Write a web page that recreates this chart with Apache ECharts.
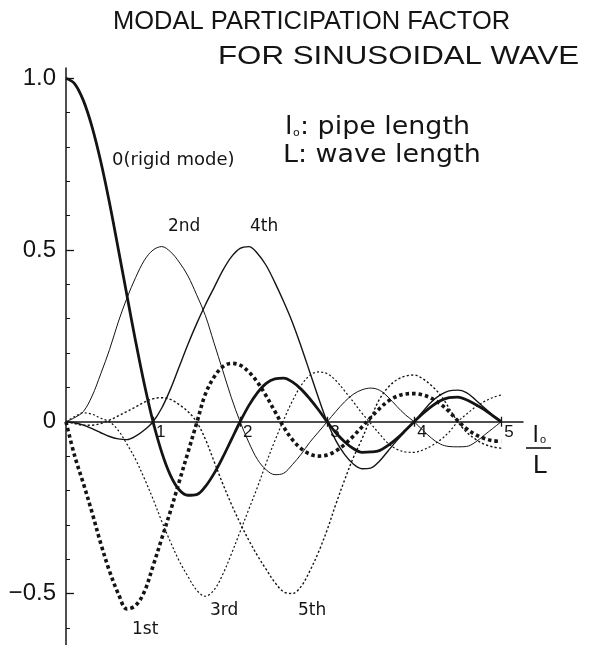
<!DOCTYPE html>
<html>
<head>
<meta charset="utf-8">
<script src="https://cdn.jsdelivr.net/npm/echarts@6/dist/echarts.min.js"></script>
<style>
  html, body { margin: 0; padding: 0; background: #fff; }
  #chart { width: 593px; height: 645px; }
</style>
</head>
<body>
<div id="chart"></div>
<script>
// Ratio of pipe length to wave length (l0 / L)
const ratio = [0, 0.1, 0.2, 0.3, 0.4, 0.5, 0.6, 0.7, 0.8, 0.9,
  1, 1.1, 1.2, 1.3, 1.4, 1.5, 1.6, 1.7, 1.8, 1.9,
  2, 2.1, 2.2, 2.3, 2.4, 2.5, 2.6, 2.7, 2.8, 2.9,
  3, 3.1, 3.2, 3.3, 3.4, 3.5, 3.6, 3.7, 3.8, 3.9,
  4, 4.1, 4.2, 4.3, 4.4, 4.5, 4.6, 4.7, 4.8, 4.9, 5];

// Modal participation factors
const rigidMode = [1.000, 0.984, 0.935, 0.858, 0.757, 0.637, 0.504, 0.368, 0.234, 0.109,
  0.000, -0.089, -0.156, -0.198, -0.214, -0.212, -0.189, -0.151, -0.104, -0.052,
  0.000, 0.047, 0.085, 0.112, 0.125, 0.127, 0.116, 0.095, 0.067, 0.035,
  0.000, -0.032, -0.058, -0.078, -0.089, -0.088, -0.084, -0.069, -0.049, -0.025,
  0.000, 0.024, 0.045, 0.061, 0.070, 0.072, 0.064, 0.051, 0.036, 0.018, 0.000];

const mode1 = [0, -0.10, -0.18, -0.265, -0.355, -0.435, -0.50, -0.545, -0.535, -0.495,
  -0.42, -0.34, -0.26, -0.175, -0.09, -0.005, 0.08, 0.13, 0.16, 0.17,
  0.165, 0.145, 0.115, 0.075, 0.03, -0.015, -0.052, -0.078, -0.094, -0.100,
  -0.097, -0.085, -0.066, -0.042, -0.015, 0.012, 0.038, 0.060, 0.074, 0.081,
  0.082, 0.078, 0.068, 0.052, 0.030, 0.003, -0.020, -0.037, -0.048, -0.055, -0.057];

const mode2 = [0, 0.012, 0.03, 0.075, 0.14, 0.21, 0.29, 0.36, 0.42, 0.47,
  0.50, 0.51, 0.495, 0.465, 0.425, 0.37, 0.31, 0.23, 0.15, 0.07,
  0.0, -0.06, -0.11, -0.14, -0.154, -0.15, -0.125, -0.095, -0.06, -0.03,
  0.0, 0.03, 0.058, 0.08, 0.093, 0.098, 0.092, 0.072, 0.045, 0.02,
  0.0, -0.025, -0.048, -0.065, -0.072, -0.073, -0.072, -0.06, -0.04, -0.02, 0.0];

const mode3 = [0, 0.015, 0.026, 0.022, 0.01, 0.0, -0.025, -0.065, -0.11, -0.165,
  -0.225, -0.29, -0.35, -0.405, -0.45, -0.49, -0.508, -0.49, -0.445, -0.385,
  -0.32, -0.255, -0.19, -0.12, -0.055, 0.005, 0.06, 0.105, 0.135, 0.145,
  0.14, 0.12, 0.09, 0.058, 0.025, -0.005, -0.035, -0.063, -0.08, -0.088,
  -0.089, -0.082, -0.07, -0.053, -0.03, 0.0, 0.022, 0.042, 0.058, 0.07, 0.078];

const mode4 = [0, -0.003, -0.01, -0.02, -0.032, -0.043, -0.05, -0.052, -0.042, -0.024,
  0.0, 0.04, 0.095, 0.16, 0.225, 0.285, 0.34, 0.39, 0.44, 0.48,
  0.505, 0.51, 0.49, 0.455, 0.405, 0.35, 0.29, 0.22, 0.145, 0.07,
  0.0, -0.055, -0.095, -0.123, -0.137, -0.135, -0.115, -0.085, -0.055, -0.027,
  0.0, 0.03, 0.058, 0.078, 0.09, 0.092, 0.085, 0.065, 0.042, 0.02, 0.0];

const mode5 = [0, -0.005, -0.01, -0.01, -0.005, 0.005, 0.017, 0.03, 0.043, 0.057,
  0.067, 0.07, 0.065, 0.05, 0.03, 0.0, -0.05, -0.115, -0.18, -0.24,
  -0.295, -0.345, -0.39, -0.43, -0.468, -0.495, -0.5, -0.48, -0.435, -0.38,
  -0.315, -0.24, -0.17, -0.105, -0.05, 0.01, 0.065, 0.1, 0.122, 0.133,
  0.136, 0.125, 0.105, 0.078, 0.04, 0.0, -0.03, -0.05, -0.065, -0.073, -0.077];

// Axis ticks and labels
const xTicks = [1, 2, 3, 4, 5];
const yMajorTicks = [-0.5, 0.5, 1.0];
const yLabelValues = [-0.5, 0, 0.5, 1.0];
const yMinorTicks = [-0.6, -0.4, -0.3, -0.2, -0.1, 0.1, 0.2, 0.3, 0.4, 0.6, 0.7, 0.8, 0.9];

// Curve names
const modeLabels = ['0(rigid mode)', '2nd', '4th', '1st', '3rd', '5th'];

const INK = '#141414';
const SANS = '"Liberation Sans", Arial, sans-serif';
const WIDE = '"DejaVu Sans", sans-serif';

const X_MIN = 0, X_MAX = 5.25;
const Y_MIN = -0.65, Y_MAX = 1.03;
const PLOT = { left: 66, right: 70, top: 68, bottom: 0 };
const CHART_H = 645;
// height of the band from the top of the plot down to the zero line
const plotH = CHART_H - PLOT.top - PLOT.bottom;
const zeroBand = plotH * Y_MAX / (Y_MAX - Y_MIN);

function pairs(values) {
  return ratio.map((x, i) => [x, values[i]]);
}

const curveStyles = [
  { values: mode2, width: 1.0, dash: 'solid', z: 2 },
  { values: mode4, width: 1.4, dash: 'solid', z: 2 },
  { values: mode3, width: 1.2, dash: [2, 2.2], z: 2 },
  { values: mode5, width: 1.4, dash: [2.2, 2.2], z: 2 },
  { values: mode1, width: 3.6, dash: [3.5, 3], z: 3 },
  { values: rigidMode, width: 2.8, dash: 'solid', z: 4 }
];

const series = curveStyles.map(c => ({
  type: 'line',
  xAxisIndex: 0,
  yAxisIndex: 0,
  data: pairs(c.values),
  showSymbol: false,
  smooth: 0.35,
  silent: true,
  z: c.z,
  lineStyle: { color: INK, width: c.width, type: c.dash, cap: 'butt', join: 'round' }
}));

function textEl(text, x, y, size, family, extra) {
  return Object.assign({
    type: 'text',
    x: x, y: y,
    silent: true,
    style: {
      text: text,
      fill: INK,
      font: size + 'px ' + (family || SANS),
      verticalAlign: 'middle',
      align: 'left'
    }
  }, extra || {});
}

const graphics = [
  // heading
  textEl('MODAL PARTICIPATION FACTOR', 113, 22, 25, SANS, { scaleX: 1.02 }),
  textEl('FOR SINUSOIDAL WAVE', 218, 57, 25, SANS, { scaleX: 1.25 }),
  // legend for the ratio
  textEl('l', 285, 128, 24, WIDE, { scaleX: 1.12 }),
  textEl('o', 293, 133, 11, WIDE),
  textEl(': pipe length', 300, 128, 24, WIDE, { scaleX: 1.12 }),
  textEl('L: wave length', 283, 156, 24, WIDE, { scaleX: 1.12 }),
  // curve names
  textEl(modeLabels[0], 112, 160, 18, WIDE),
  textEl(modeLabels[1], 168, 227, 17, WIDE),
  textEl(modeLabels[2], 250, 227, 17, WIDE),
  textEl(modeLabels[3], 132, 630, 17, WIDE),
  textEl(modeLabels[4], 210, 611, 17, WIDE),
  textEl(modeLabels[5], 298, 611, 17, WIDE),
  // x-axis name as a fraction l0 / L
  textEl('l', 533, 435, 24),
  textEl('o', 540, 440, 11),
  { type: 'line', silent: true, shape: { x1: 526, y1: 448, x2: 551, y2: 448 },
    style: { stroke: INK, lineWidth: 1.6 } },
  textEl('L', 533, 466, 26)
];

const option = {
  backgroundColor: '#fff',
  animation: false,
  grid: [
    // plotting area
    Object.assign({ outerBoundsMode: 'none', containLabel: false }, PLOT),
    // band whose lower edge is the zero line; carries the horizontal axis
    { left: PLOT.left, right: PLOT.right, top: PLOT.top, height: zeroBand,
      outerBoundsMode: 'none', containLabel: false }
  ],
  xAxis: [
    { gridIndex: 0, type: 'value', min: X_MIN, max: X_MAX, show: false },
    { gridIndex: 1, type: 'value', min: X_MIN, max: X_MAX, position: 'bottom',
      splitLine: { show: false },
      axisLine: { show: true, onZero: false, lineStyle: { color: INK, width: 1.5 } },
      axisTick: { show: true, inside: false, length: 5, customValues: xTicks,
        lineStyle: { color: INK, width: 1.3 } },
      axisLabel: { show: true, customValues: xTicks, color: INK, fontFamily: SANS,
        fontSize: 17, align: 'left', margin: 2, padding: [0, 0, 0, 3] } },
    { gridIndex: 1, type: 'value', min: X_MIN, max: X_MAX, position: 'bottom',
      splitLine: { show: false },
      axisLine: { show: false, onZero: false },
      axisTick: { show: true, inside: true, length: 5, customValues: xTicks,
        lineStyle: { color: INK, width: 1.3 } },
      axisLabel: { show: false } }
  ],
  yAxis: [
    { gridIndex: 0, type: 'value', min: Y_MIN, max: Y_MAX, position: 'left',
      splitLine: { show: false },
      axisLine: { show: true, onZero: false, lineStyle: { color: INK, width: 1.5 } },
      axisTick: { show: true, inside: true, length: 4, customValues: yMinorTicks,
        lineStyle: { color: INK, width: 1 } },
      axisLabel: { show: false } },
    { gridIndex: 0, type: 'value', min: Y_MIN, max: Y_MAX, position: 'left',
      splitLine: { show: false },
      axisLine: { show: false, onZero: false },
      axisTick: { show: true, inside: true, length: 8, customValues: yMajorTicks,
        lineStyle: { color: INK, width: 1.3 } },
      axisLabel: {
        show: true, customValues: yLabelValues, color: INK, fontFamily: SANS,
        fontSize: 24, margin: 10,
        formatter: v => v === 0 ? '0' : (v < 0 ? '\u2212' : '') + Math.abs(v).toFixed(1)
      } },
    { gridIndex: 1, type: 'value', min: 0, max: 1, show: false }
  ],
  graphic: graphics,
  series: series
};

const chart = echarts.init(document.getElementById('chart'), null, { renderer: 'canvas' });
chart.setOption(option);
</script>
</body>
</html>
